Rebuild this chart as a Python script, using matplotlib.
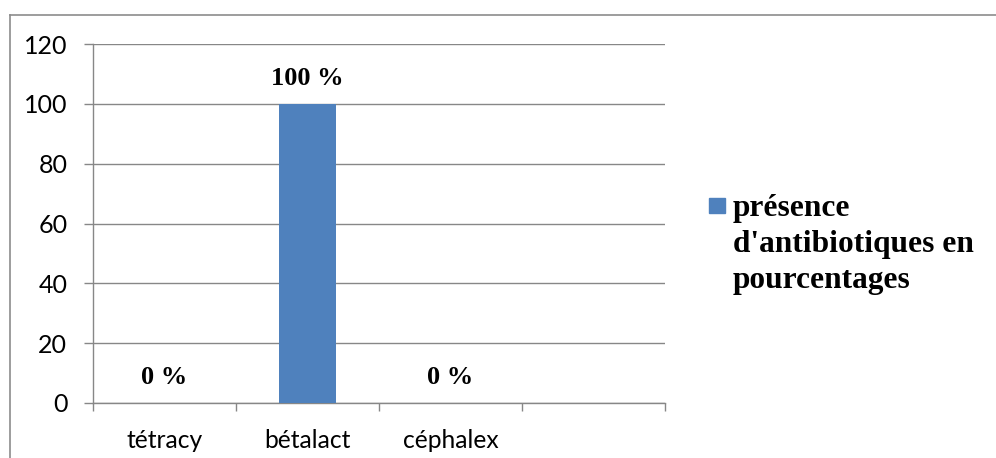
import matplotlib
matplotlib.use("Agg")
import matplotlib.pyplot as plt
from matplotlib.lines import Line2D
from matplotlib.patches import Rectangle

categories = ["tétracy", "bétalact", "céphalex", ""]
values = [0, 100, 0, None]
value_labels = ["0 %", "100 %", "0 %", None]
legend_lines = ["présence", "d'antibiotiques en", "pourcentages"]
yticks = [0, 20, 40, 60, 80, 100, 120]

W, H = 996, 458
fig = plt.figure(figsize=(W / 100, H / 100), dpi=100)
ax = fig.add_axes([93 / W, 1 - 403 / H, (665 - 93) / W, (403 - 44) / H])

grey = "#878787"
bar_color = "#4F81BD"
tick_font = "Lato"

xs = [i for i, v in enumerate(values) if v is not None]
vs = [v for v in values if v is not None]
ax.bar(xs, vs, width=0.4, color=bar_color, zorder=3)

for i, (v, lab) in enumerate(zip(values, value_labels)):
    if v is None:
        continue
    ax.annotate(lab, (i, v), xytext=(0, 18.5), textcoords="offset points",
                ha="center", va="center", fontsize=19, fontweight="bold",
                family="Liberation Serif", color="black", zorder=4)

ax.set_xlim(-0.5, len(categories) - 0.5)
ax.set_ylim(0, 120)
ax.set_yticks(yticks)
ax.set_yticklabels([str(t) for t in yticks], fontsize=18, family=tick_font)
ax.set_xticks(range(len(categories)))
ax.set_xticklabels(categories, fontsize=17.7, family=tick_font)
ax.set_xticks([i - 0.5 for i in range(len(categories) + 1)], minor=True)

ax.tick_params(axis="x", which="major", length=0, pad=19)
ax.tick_params(axis="x", which="minor", length=5.5, width=1, color=grey, direction="out")
ax.tick_params(axis="y", length=6.5, width=1, color=grey, direction="out", pad=12)

ax.grid(axis="y", color=grey, linewidth=1, zorder=0)
for s in ["top", "right"]:
    ax.spines[s].set_visible(False)
for s in ["left", "bottom"]:
    ax.spines[s].set_color(grey)
    ax.spines[s].set_linewidth(1)
ax.set_axisbelow(True)

# legend
fig.add_artist(Rectangle((709 / W, 1 - 213 / H), 16 / W, 15 / H,
                         transform=fig.transFigure, color=bar_color))
for k, line in enumerate(legend_lines):
    fig.text(733 / W, 1 - (216 + 36 * k) / H, line, ha="left", va="baseline",
             fontsize=22.6, fontweight="bold", family="Liberation Serif")

# outer frame
fig.add_artist(Line2D([10 / W, 10 / W], [0, 1 - 15 / H], transform=fig.transFigure,
                      color="#8c8c8c", linewidth=1.2))
fig.add_artist(Line2D([10 / W, 1], [1 - 15 / H, 1 - 15 / H], transform=fig.transFigure,
                      color="#8c8c8c", linewidth=1.2))

fig.savefig("out.png", dpi=100)
